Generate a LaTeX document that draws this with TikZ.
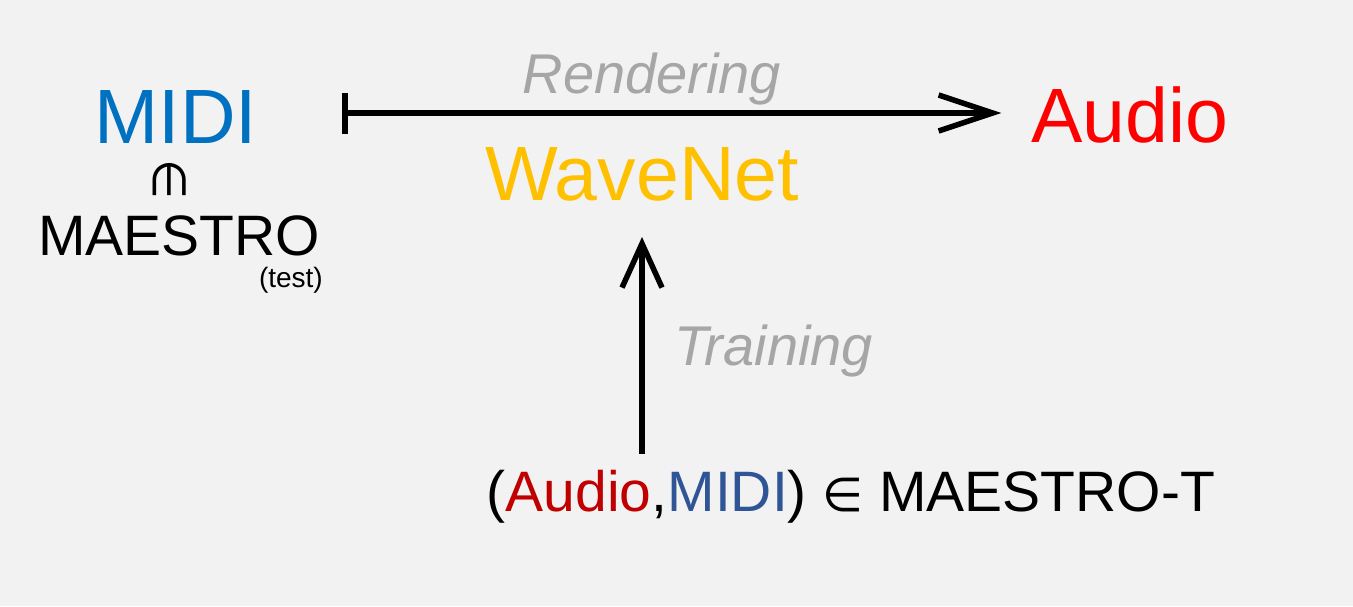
\documentclass[tikz,border=0pt]{standalone}
\usepackage{fontspec}
\setmainfont{Liberation Sans}
\newfontfamily\symfont{DejaVu Sans}
\usepackage{tikz}
\usetikzlibrary{arrows.meta}

\definecolor{midiblue}{RGB}{0,112,192}
\definecolor{audiored}{RGB}{255,0,0}
\definecolor{wavegold}{RGB}{255,192,0}
\definecolor{notegray}{RGB}{166,166,166}
\definecolor{pairred}{RGB}{192,0,0}
\definecolor{pairblue}{RGB}{47,85,151}
\definecolor{bggray}{RGB}{242,242,242}

\begin{document}
\begin{tikzpicture}[x=1pt, y=-1pt,
        big/.style={inner sep=0pt, anchor=base, font=\fontsize{77}{90}\selectfont},
        mid/.style={inner sep=0pt, anchor=base, font=\fontsize{57}{68}\selectfont},
        note/.style={inner sep=0pt, anchor=base, text=notegray, font=\fontsize{56}{66}\selectfont\itshape},
        arr/.style={line width=5.5pt}]
    \fill[bggray] (0,0) rectangle (1353,606);
    \useasboundingbox (0,0) rectangle (1353,606);

    % left block
    \node[big, text=midiblue] (midi) at (176,143) {MIDI};
    \node[inner sep=0pt, rotate=-90, font=\fontsize{46}{54}\symfont] (elem) at (170,180) {∈};
    \node[mid] (maestro) at (179,255) {MAESTRO};
    \node[inner sep=0pt, anchor=base east, font=\fontsize{28}{34}\selectfont] (test) at (323,287) {(test)};

    % rendering
    \node[note] (render) at (652,93) {Rendering};
    \node[big, text=wavegold] (wavenet) at (642,200) {WaveNet};
    \node[big, text=audiored] (audio) at (1130,142) {Audio};
    \coordinate (rstart) at (342,113);
    \draw[arr, {Bar[width=41pt]}-{Straight Barb[length=54pt,width=36pt]}, shorten >=30pt]
        (rstart) -- (rstart -| audio.west);

    % training
    \node[note] (train) at (774,365) {Training};
    \node[mid] (pair) at (851,511) {(\textcolor{pairred}{Audio},\textcolor{pairblue}{MIDI}) {\fontsize{47}{56}\symfont ∈} MAESTRO-T};
    \draw[arr, -{Straight Barb[length=44pt,width=40pt]}, shorten <=16pt, shorten >=36pt]
        (wavenet.south |- pair.north) -- (wavenet.south);
\end{tikzpicture}
\end{document}
